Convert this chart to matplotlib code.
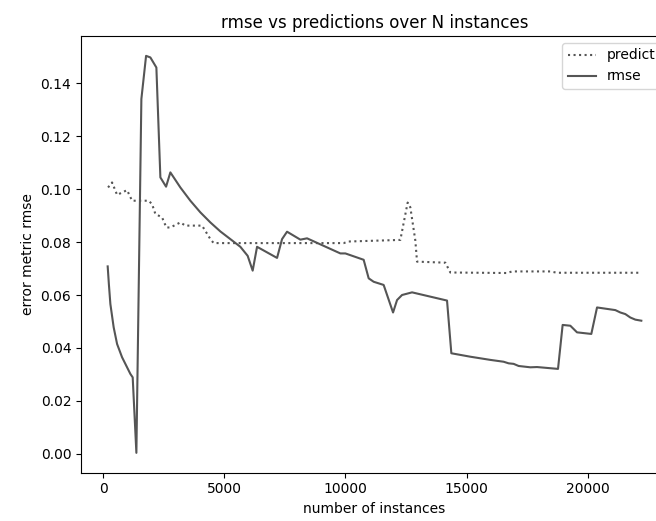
import matplotlib
matplotlib.use("Agg")
import matplotlib.pyplot as plt

# rmse series
rmse_x = [190, 240, 301, 437, 578, 783, 1126, 1222, 1374, 1580, 1774, 1951, 2199, 2364,
          2599, 2776, 3189, 3601, 4014, 4427, 4839, 5252, 5664, 5965, 6172, 6353,
          7178, 7384, 7590, 8140, 8416, 9790, 9996, 10751, 10958, 11164, 11576,
          11964, 12129, 12335, 12748, 14191, 14369, 15153, 15978, 16527, 16733,
          16939, 17145, 17628, 17904, 18770, 18961, 19278, 19554, 20144, 20380,
          21135, 21341, 21547, 21754, 21960, 22207]
rmse_y = [0.0708, 0.0640, 0.0566, 0.0478, 0.0415, 0.0365, 0.0302, 0.0289, 0.0004,
          0.134, 0.1503, 0.1497, 0.1459, 0.1044, 0.1009, 0.1063, 0.1006, 0.0956,
          0.0912, 0.0874, 0.0840, 0.0811, 0.0782, 0.0748, 0.0692, 0.0782, 0.0740,
          0.0811, 0.0839, 0.0809, 0.0814, 0.0757, 0.0757, 0.0733, 0.0663, 0.0650,
          0.0638, 0.0534, 0.0581, 0.0600, 0.0610, 0.0579, 0.0380, 0.0367, 0.0355,
          0.0348, 0.0342, 0.0340, 0.0332, 0.0327, 0.0328, 0.0321, 0.0487, 0.0484,
          0.0459, 0.0453, 0.0553, 0.0543, 0.0534, 0.0528, 0.0515, 0.0507, 0.0503]

# predict series
pred_x = [206, 371, 578, 990, 1196, 1881, 2021, 2158, 2434, 2611, 2776, 3189, 3395,
          4084, 4427, 4563, 9926, 10132, 12265, 12566, 12677, 12884, 12953, 14121,
          14328, 16667, 16873, 18453, 18729, 22207]
pred_y = [0.1006, 0.1025, 0.0978, 0.0996, 0.0956, 0.0956, 0.0943, 0.0906, 0.0893,
          0.0855, 0.0855, 0.0874, 0.0862, 0.0862, 0.0811, 0.0796, 0.0796, 0.0802,
          0.0808, 0.0949, 0.0931, 0.0805, 0.0726, 0.0722, 0.0685, 0.0683, 0.0689,
          0.0689, 0.0684, 0.0684]

fig = plt.figure(figsize=(6.56, 5.21), dpi=100)
ax = fig.add_axes([81 / 656, (521 - 472.7) / 521, (668 - 81) / 656, (472.7 - 36) / 521])

ax.plot(pred_x, pred_y, linestyle=':', color='#555555', label='predict')
ax.plot(rmse_x, rmse_y, linestyle='-', color='#555555', label='rmse')

ax.set_title('rmse vs predictions over N instances')
ax.set_xlabel('number of instances')
ax.set_ylabel('error metric rmse')
ax.legend(loc='upper right')

fig.savefig('out.png', dpi=100)
